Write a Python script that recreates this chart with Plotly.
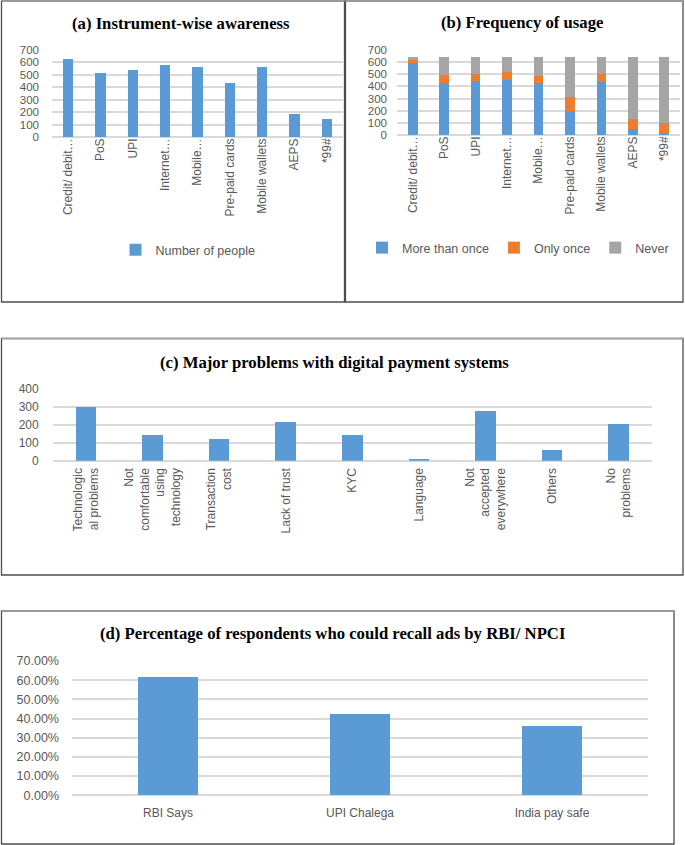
import plotly.graph_objects as go

# ---------------- data ----------------
instruments = ["Credit/ debit…", "PoS", "UPI", "Internet…", "Mobile…",
               "Pre-paid cards", "Mobile wallets", "AEPS", "*99#"]
awareness = [625, 518, 540, 580, 561, 435, 561, 187, 144]

more_than_once = [595, 431, 445, 453, 431, 198, 439, 47, 19]
only_once = [22, 60, 57, 69, 55, 115, 63, 82, 77]
never = [23, 149, 138, 118, 154, 327, 138, 511, 544]

problems = ["Technologic<br>al problems", "Not<br>comfortable<br>using<br>technology",
            "Transaction<br>cost", "Lack of trust", "KYC", "Language",
            "Not<br>accepted<br>everywhere", "Others", "No<br>problems"]
problem_counts = [300, 144, 122, 213, 144, 9, 276, 59, 204]

ads = ["RBI Says", "UPI Chalega", "India pay safe"]
recall = [0.618, 0.422, 0.363]

# ---------------- styling ----------------
W, H = 685, 845
BLUE, ORANGE, GRAY = "#5B9BD5", "#ED7D31", "#A5A5A5"
GRID = "#D9D9D9"
TXT = "#595959"
FONT = "Liberation Sans"
TFONT = "Liberation Serif"


def px(x):
    return x / W


def py(y):
    return 1 - y / H


fig = go.Figure()

fig.add_trace(go.Bar(x=instruments, y=awareness, name="Number of people",
                     marker_color=BLUE, xaxis="x", yaxis="y", legend="legend"))
fig.add_trace(go.Bar(x=instruments, y=more_than_once, name="More than once",
                     marker_color=BLUE, xaxis="x2", yaxis="y2", legend="legend2"))
fig.add_trace(go.Bar(x=instruments, y=only_once, name="Only once",
                     marker_color=ORANGE, xaxis="x2", yaxis="y2", legend="legend2"))
fig.add_trace(go.Bar(x=instruments, y=never, name="Never",
                     marker_color=GRAY, xaxis="x2", yaxis="y2", legend="legend2"))
fig.add_trace(go.Bar(x=problems, y=problem_counts, marker_color=BLUE,
                     xaxis="x3", yaxis="y3", showlegend=False))
fig.add_trace(go.Bar(x=ads, y=recall, marker_color=BLUE,
                     xaxis="x4", yaxis="y4", showlegend=False))
fig.update_traces(marker_line_width=0, hoverinfo="skip")


def tf(size=12):
    return dict(family=FONT, size=size, color=TXT)


def xax(x0, x1, y, angle, standoff=0, size=12):
    return dict(domain=[px(x0), px(x1)], anchor=y, tickangle=angle,
                tickfont=tf(size), showgrid=False, showline=False,
                ticks="", fixedrange=True, ticklabelstandoff=standoff,
                automargin=False)


def yax(y0, y1, x, rng, dtick, standoff, fmt=None, size=12):
    d = dict(domain=[py(y0), py(y1)], anchor=x, range=rng, dtick=dtick,
             tickfont=tf(size), showgrid=True, gridcolor=GRID, gridwidth=1.5,
             zeroline=True, zerolinecolor=GRID, zerolinewidth=1.5,
             showline=False, ticks="", ticklabelstandoff=standoff,
             automargin=False, fixedrange=True)
    if fmt:
        d["tickformat"] = fmt
    return d


layout = dict(
    width=W, height=H,
    margin=dict(l=0, r=0, t=0, b=0, pad=0, autoexpand=False),
    paper_bgcolor="white", plot_bgcolor="white",
    barmode="stack", bargap=0.69,
    font=dict(family=FONT, color=TXT),
    xaxis=xax(52, 343, "y", -90, -2),
    yaxis=yax(137, 50, "x", [0, 700], 100, 12, size=11.5),
    xaxis2=xax(397, 680, "y2", -90, -2),
    yaxis2=yax(135, 50, "x2", [0, 700], 100, 9, size=11.5),
    xaxis3=xax(52.7, 652, "y3", -90, 4),
    yaxis3=yax(460.7, 388.7, "x3", [0, 400], 100, 13),
    xaxis4=xax(72, 648, "y4", 0, 9),
    yaxis4=yax(795.3, 661, "x4", [0, 0.7], 0.1, 12, ".2%", size=12.5),
    legend=dict(orientation="h", x=px(188), y=py(250), xanchor="center",
                yanchor="middle", font=tf(12.5), bgcolor="rgba(0,0,0,0)"),
    legend2=dict(orientation="h", x=px(518), y=py(248), xanchor="center",
                 yanchor="middle", font=tf(12.5), bgcolor="rgba(0,0,0,0)",
                 traceorder="normal"),
)
fig.update_layout(**layout)

titles = [
    ("(a) Instrument-wise awareness", 181, 23),
    ("(b) Frequency of usage", 522, 22),
    ("(c) Major problems with digital payment systems", 334, 362),
    ("(d) Percentage of respondents who could recall ads by RBI/ NPCI", 332, 633),
]
for text, x, y in titles:
    fig.add_annotation(text="<b>%s</b>" % text, x=px(x), y=py(y), xref="paper",
                       yref="paper", showarrow=False, xanchor="center",
                       yanchor="middle",
                       font=dict(family=TFONT, size=16.7, color="black"))

boxes = [(1.5, 1, 344.5, 302), (345.5, 1, 683, 302),
         (1.5, 338.5, 683, 575), (1.5, 611, 674, 844)]
for x0, y0, x1, y1 in boxes:
    fig.add_shape(type="rect", xref="paper", yref="paper",
                  x0=px(x0), x1=px(x1), y0=py(y1), y1=py(y0),
                  line=dict(color="#4D4D4D", width=1.3), fillcolor="rgba(0,0,0,0)")
    fig.add_shape(type="line", xref="paper", yref="paper",
                  x0=px(x0), x1=px(x1), y0=py(y0), y1=py(y0),
                  line=dict(color="#A6A6A6", width=1.3))

fig.write_html("out.html", config={"displayModeBar": False},
               post_script="document.body.style.margin='0';"
                           "document.body.style.overflow='hidden';")
